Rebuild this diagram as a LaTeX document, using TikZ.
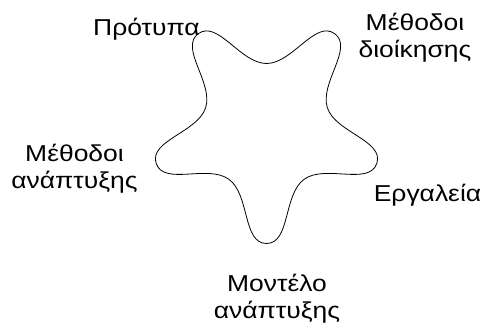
\documentclass[tikz,border=0pt]{standalone}
\usepackage{fontspec}
\setmainfont[FakeStretch=1.15]{Liberation Sans}
\begin{document}
\begin{tikzpicture}[x=1pt,y=-1pt,
  lbl/.style={font=\fontsize{23}{27.5}\selectfont, align=center, inner sep=0pt, anchor=base},
  starline/.style={draw=black, line width=0.8pt, line join=round}]
\useasboundingbox (0,0) rectangle (482,332);
\begin{scope}[shift={(266.5,127.5)}]
  \draw[starline] (90:116)
    \foreach \a in {90,162,234,306,378} {
      .. controls +(\a+90:24) and +(\a-54:26) .. (\a+36:64)
      .. controls +(\a+126:26) and +(\a-18:24) .. (\a+72:116)
    } -- cycle;
\end{scope}
\node[lbl] (protypa) at (146.5,35) {Πρότυπα};
\node[lbl] (dioik) at (415,57.5) {Μέθοδοι\\διοίκησης};
\node[lbl] (anapt) at (74.5,188.5) {Μέθοδοι\\ανάπτυξης};
\node[lbl] (ergal) at (427.5,201.7) {Εργαλεία};
\node[lbl] (montelo) at (277,318.5) {Μοντέλο\\ανάπτυξης};
\end{tikzpicture}
\end{document}
